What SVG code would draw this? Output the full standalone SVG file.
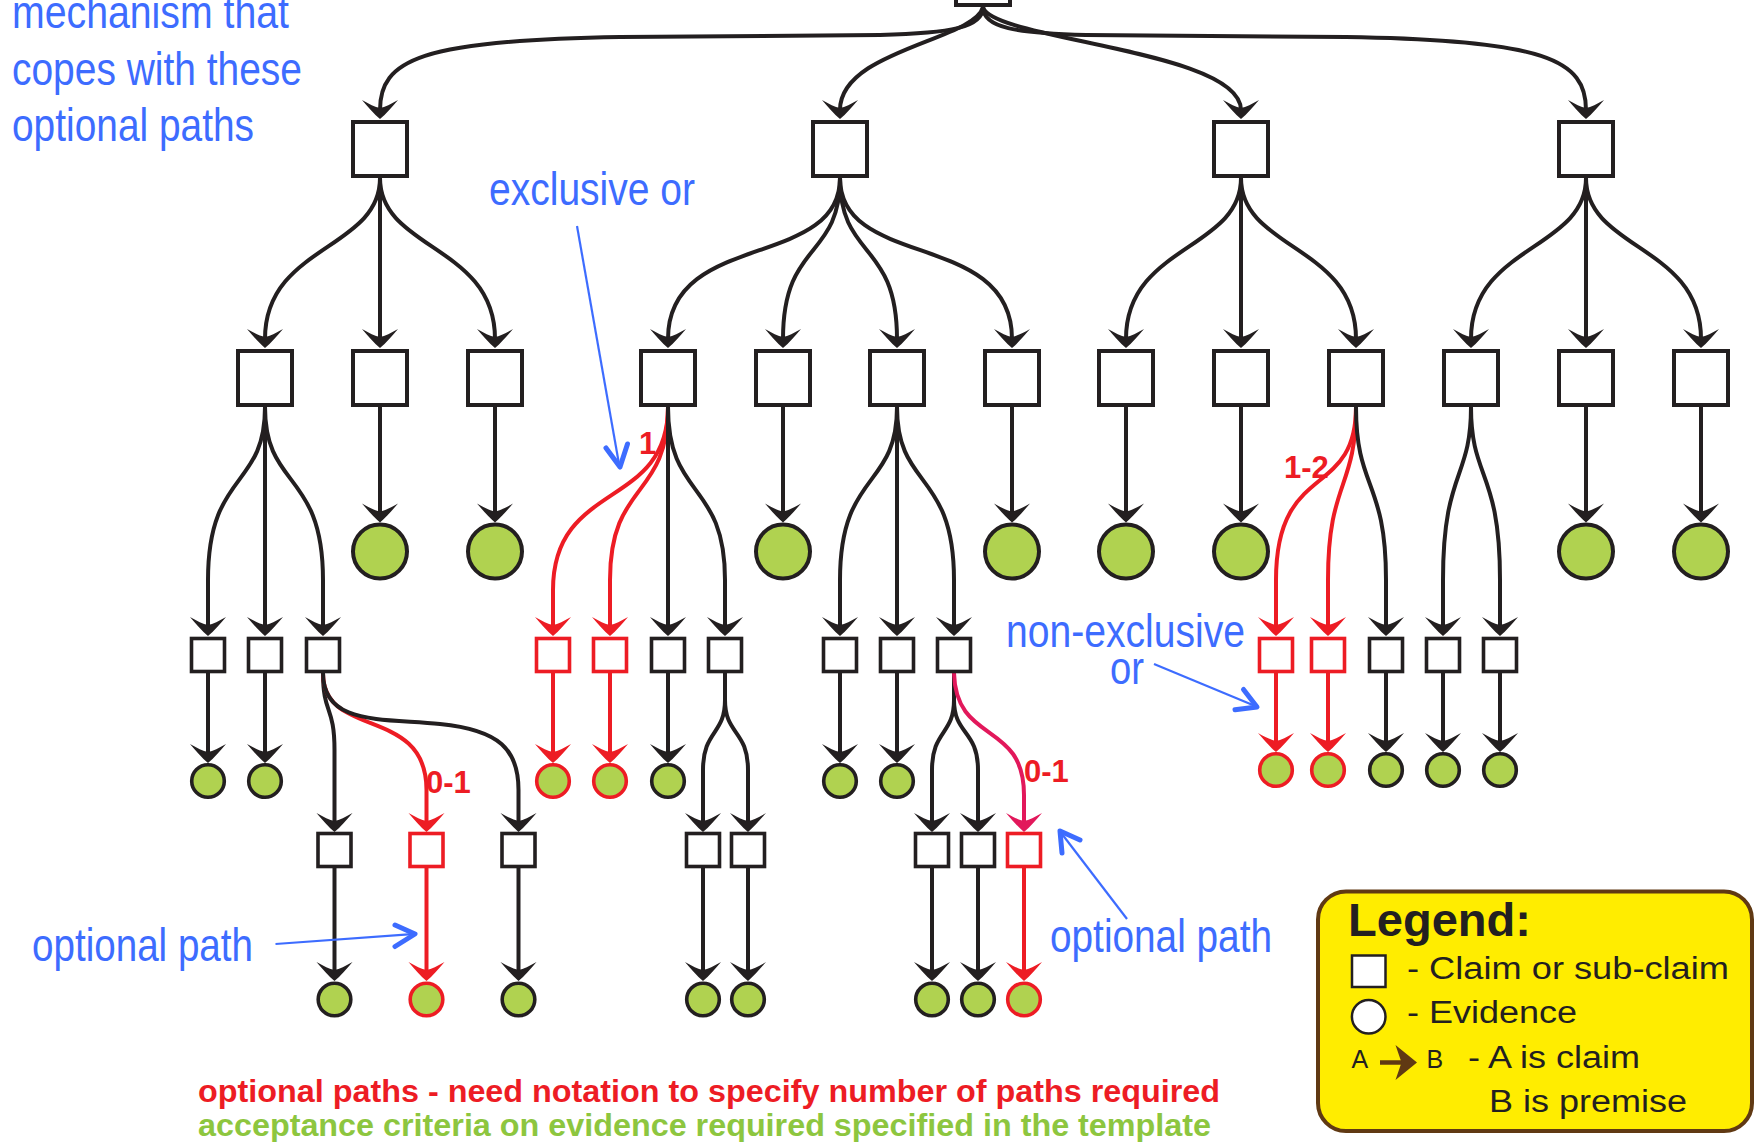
<svg xmlns="http://www.w3.org/2000/svg" width="1754" height="1142" viewBox="0 0 1754 1142">
  <style>
    .box { fill: #fff; stroke: #231F20; stroke-width: 4; }
    .sbox { fill: #fff; stroke: #231F20; stroke-width: 3.6; }
    .ev { fill: #B0D250; stroke: #231F20; stroke-width: 4; }
    .sev { fill: #B0D250; stroke: #231F20; stroke-width: 3.6; }
    .opt { stroke: #ED1C24; }
    .link { fill: none; stroke: #231F20; stroke-width: 4; marker-end: url(#ah); }
    .link.opt { stroke: #ED1C24; marker-end: url(#ahr); }
    .link.opt2 { stroke: #E2185B; marker-end: url(#ahc); }
    .note { font-family: "Liberation Sans", Arial, sans-serif; font-size: 46px; fill: #3D6CFF; }
    .count { font-family: "Liberation Sans", Arial, sans-serif; font-weight: bold; font-size: 31px; fill: #ED1C24; }
    .pointer { fill: none; stroke: #3D6CFF; stroke-width: 2.2; }
    .pointer-head { fill: none; stroke: #3D6CFF; stroke-width: 5; stroke-linecap: round; stroke-linejoin: round; }
    .foot { font-family: "Liberation Sans", Arial, sans-serif; font-weight: bold; font-size: 31px; }
    .leg { font-family: "Liberation Sans", Arial, sans-serif; font-size: 31px; fill: #231F20; }
  </style>
  <defs>
    <marker id="ah" markerUnits="userSpaceOnUse" orient="auto" viewBox="-20 -20 40 40" markerWidth="40" markerHeight="40" refX="-9" refY="0">
      <path d="M0,0 C-5,-6 -12,-12 -19,-18 C-15,-11 -12,-5 -11,0 C-12,5 -15,11 -19,18 C-12,12 -5,6 0,0 Z" fill="#231F20"/>
    </marker>
    <marker id="ahr" markerUnits="userSpaceOnUse" orient="auto" viewBox="-20 -20 40 40" markerWidth="40" markerHeight="40" refX="-9" refY="0">
      <path d="M0,0 C-5,-6 -12,-12 -19,-18 C-15,-11 -12,-5 -11,0 C-12,5 -15,11 -19,18 C-12,12 -5,6 0,0 Z" fill="#ED1C24"/>
    </marker>
    <marker id="ahc" markerUnits="userSpaceOnUse" orient="auto" viewBox="-20 -20 40 40" markerWidth="40" markerHeight="40" refX="-9" refY="0">
      <path d="M0,0 C-5,-6 -12,-12 -19,-18 C-15,-11 -12,-5 -11,0 C-12,5 -15,11 -19,18 C-12,12 -5,6 0,0 Z" fill="#E2185B"/>
    </marker>
  </defs>

  <rect width="1754" height="1142" fill="#fff"/>

  <!-- connectors -->
  <g id="connectors">
    <!-- root to top-level claims -->
    <path class="link" d="M983,7 C983,28 950,33 880,35 L620,37 C420,40 380,60 380,110"/>
    <path class="link" d="M983,7 C975,40 840,50 840,110"/>
    <path class="link" d="M983,7 C991,40 1241,50 1241,110"/>
    <path class="link" d="M983,7 C983,28 1016,33 1086,35 L1346,37 C1546,40 1586,60 1586,110"/>

    <!-- top-level claims to sub-claims -->
    <path class="link" d="M380,178 C380,250 265,245 265,339"/>
    <path class="link" d="M380,178 L380,339"/>
    <path class="link" d="M380,178 C380,250 495,245 495,339"/>
    <path class="link" d="M840,178 C840,270 668,230 668,339"/>
    <path class="link" d="M840,178 C840,260 783,240 783,339"/>
    <path class="link" d="M840,178 C840,260 897,240 897,339"/>
    <path class="link" d="M840,178 C840,270 1012,230 1012,339"/>
    <path class="link" d="M1241,178 C1241,250 1126,245 1126,339"/>
    <path class="link" d="M1241,178 L1241,339"/>
    <path class="link" d="M1241,178 C1241,250 1356,245 1356,339"/>
    <path class="link" d="M1586,178 C1586,250 1471,245 1471,339"/>
    <path class="link" d="M1586,178 L1586,339"/>
    <path class="link" d="M1586,178 C1586,250 1701,245 1701,339"/>

    <!-- sub-claims to evidence -->
    <path class="link" d="M380,407 L380,513.5"/>
    <path class="link" d="M495,407 L495,513.5"/>
    <path class="link" d="M783,407 L783,513.5"/>
    <path class="link" d="M1012,407 L1012,513.5"/>
    <path class="link" d="M1126,407 L1126,513.5"/>
    <path class="link" d="M1241,407 L1241,513.5"/>
    <path class="link" d="M1586,407 L1586,513.5"/>
    <path class="link" d="M1701,407 L1701,513.5"/>

    <!-- sub-claims to third-level claims -->
    <path class="link" d="M265,407 C265,490 208,470 208,580 L208,627"/>
    <path class="link" d="M265,407 L265,627"/>
    <path class="link" d="M265,407 C265,490 323,470 323,580 L323,627"/>
    <path class="link opt" d="M668,407 C668,510 553,480 553,590 L553,627"/>
    <path class="link opt" d="M668,407 C668,500 610,480 610,580 L610,627"/>
    <path class="link" d="M668,407 L668,627"/>
    <path class="link" d="M668,407 C668,500 725,480 725,580 L725,627"/>
    <path class="link" d="M897,407 C897,490 840,470 840,580 L840,627"/>
    <path class="link" d="M897,407 L897,627"/>
    <path class="link" d="M897,407 C897,490 954,470 954,580 L954,627"/>
    <path class="link opt" d="M1356,407 C1356,500 1276,460 1276,580 L1276,627"/>
    <path class="link opt" d="M1356,407 C1356,490 1328,480 1328,580 L1328,627"/>
    <path class="link" d="M1356,407 C1356,490 1386,480 1386,580 L1386,627"/>
    <path class="link" d="M1471,407 C1471,480 1443,470 1443,580 L1443,627"/>
    <path class="link" d="M1471,407 C1471,480 1500,470 1500,580 L1500,627"/>

    <!-- third-level claims to evidence -->
    <path class="link" d="M208,673 L208,754"/>
    <path class="link" d="M265,673 L265,754"/>
    <path class="link opt" d="M553,673 L553,754"/>
    <path class="link opt" d="M610,673 L610,754"/>
    <path class="link" d="M668,673 L668,754"/>
    <path class="link" d="M840,673 L840,754"/>
    <path class="link" d="M897,673 L897,754"/>
    <path class="link opt" d="M1276,673 L1276,743"/>
    <path class="link opt" d="M1328,673 L1328,743"/>
    <path class="link" d="M1386,673 L1386,743"/>
    <path class="link" d="M1443,673 L1443,743"/>
    <path class="link" d="M1500,673 L1500,743"/>

    <!-- third-level claims to fourth-level claims -->
    <path class="link" d="M323,673 C323,715 334.5,705 334.5,750 L334.5,823"/>
    <path class="link opt" d="M323,673 C323,740 426.5,705 426.5,790 L426.5,823"/>
    <path class="link" d="M323,673 C323,725 380,718 440,724 C500,730 518.5,750 518.5,790 L518.5,823"/>
    <path class="link" d="M725,673 L725,700 C725,735 703,730 703,770 L703,823"/>
    <path class="link" d="M725,673 L725,700 C725,735 748,730 748,770 L748,823"/>
    <path class="link" d="M954,673 L954,700 C954,735 932,730 932,770 L932,823"/>
    <path class="link" d="M954,673 L954,700 C954,735 978,730 978,770 L978,823"/>
    <path class="link opt2" d="M954,673 C956,745 1024,720 1024,795 L1024,823"/>

    <!-- fourth-level claims to evidence -->
    <path class="link" d="M334.5,868 L334.5,972"/>
    <path class="link opt" d="M426.5,868 L426.5,972"/>
    <path class="link" d="M518.5,868 L518.5,972"/>
    <path class="link" d="M703,868 L703,972"/>
    <path class="link" d="M748,868 L748,972"/>
    <path class="link" d="M932,868 L932,972"/>
    <path class="link" d="M978,868 L978,972"/>
    <path class="link opt" d="M1024,868 L1024,972"/>
  </g>

  <!-- root claim -->
  <g id="n-root"><rect class="box" x="956" y="-49" width="54" height="54"/></g>

  <!-- top-level claims -->
  <g id="n-a"><rect class="box" x="353" y="122" width="54" height="54"/></g>
  <g id="n-b"><rect class="box" x="813" y="122" width="54" height="54"/></g>
  <g id="n-c"><rect class="box" x="1214" y="122" width="54" height="54"/></g>
  <g id="n-d"><rect class="box" x="1559" y="122" width="54" height="54"/></g>

  <!-- sub-claims -->
  <g id="n-a1"><rect class="box" x="238" y="351" width="54" height="54"/></g>
  <g id="n-a2"><rect class="box" x="353" y="351" width="54" height="54"/></g>
  <g id="n-a3"><rect class="box" x="468" y="351" width="54" height="54"/></g>
  <g id="n-b1"><rect class="box" x="641" y="351" width="54" height="54"/></g>
  <g id="n-b2"><rect class="box" x="756" y="351" width="54" height="54"/></g>
  <g id="n-b3"><rect class="box" x="870" y="351" width="54" height="54"/></g>
  <g id="n-b4"><rect class="box" x="985" y="351" width="54" height="54"/></g>
  <g id="n-c1"><rect class="box" x="1099" y="351" width="54" height="54"/></g>
  <g id="n-c2"><rect class="box" x="1214" y="351" width="54" height="54"/></g>
  <g id="n-c3"><rect class="box" x="1329" y="351" width="54" height="54"/></g>
  <g id="n-d1"><rect class="box" x="1444" y="351" width="54" height="54"/></g>
  <g id="n-d2"><rect class="box" x="1559" y="351" width="54" height="54"/></g>
  <g id="n-d3"><rect class="box" x="1674" y="351" width="54" height="54"/></g>

  <!-- evidence under sub-claims -->
  <g id="e-a2"><circle class="ev" cx="380" cy="551.5" r="27"/></g>
  <g id="e-a3"><circle class="ev" cx="495" cy="551.5" r="27"/></g>
  <g id="e-b2"><circle class="ev" cx="783" cy="551.5" r="27"/></g>
  <g id="e-b4"><circle class="ev" cx="1012" cy="551.5" r="27"/></g>
  <g id="e-c1"><circle class="ev" cx="1126" cy="551.5" r="27"/></g>
  <g id="e-c2"><circle class="ev" cx="1241" cy="551.5" r="27"/></g>
  <g id="e-d2"><circle class="ev" cx="1586" cy="551.5" r="27"/></g>
  <g id="e-d3"><circle class="ev" cx="1701" cy="551.5" r="27"/></g>

  <!-- third-level claims -->
  <g id="n-a1-1"><rect class="sbox" x="191.5" y="638.5" width="33" height="33"/></g>
  <g id="n-a1-2"><rect class="sbox" x="248.5" y="638.5" width="33" height="33"/></g>
  <g id="n-a1-3"><rect class="sbox" x="306.5" y="638.5" width="33" height="33"/></g>
  <g id="n-b1-1"><rect class="sbox opt" x="536.5" y="638.5" width="33" height="33"/></g>
  <g id="n-b1-2"><rect class="sbox opt" x="593.5" y="638.5" width="33" height="33"/></g>
  <g id="n-b1-3"><rect class="sbox" x="651.5" y="638.5" width="33" height="33"/></g>
  <g id="n-b1-4"><rect class="sbox" x="708.5" y="638.5" width="33" height="33"/></g>
  <g id="n-b3-1"><rect class="sbox" x="823.5" y="638.5" width="33" height="33"/></g>
  <g id="n-b3-2"><rect class="sbox" x="880.5" y="638.5" width="33" height="33"/></g>
  <g id="n-b3-3"><rect class="sbox" x="937.5" y="638.5" width="33" height="33"/></g>
  <g id="n-c3-1"><rect class="sbox opt" x="1259.5" y="638.5" width="33" height="33"/></g>
  <g id="n-c3-2"><rect class="sbox opt" x="1311.5" y="638.5" width="33" height="33"/></g>
  <g id="n-c3-3"><rect class="sbox" x="1369.5" y="638.5" width="33" height="33"/></g>
  <g id="n-d1-1"><rect class="sbox" x="1426.5" y="638.5" width="33" height="33"/></g>
  <g id="n-d1-2"><rect class="sbox" x="1483.5" y="638.5" width="33" height="33"/></g>

  <!-- evidence under third-level claims -->
  <g id="e-a1-1"><circle class="sev" cx="208" cy="781" r="16.3"/></g>
  <g id="e-a1-2"><circle class="sev" cx="265" cy="781" r="16.3"/></g>
  <g id="e-b1-1"><circle class="sev opt" cx="553" cy="781" r="16.3"/></g>
  <g id="e-b1-2"><circle class="sev opt" cx="610" cy="781" r="16.3"/></g>
  <g id="e-b1-3"><circle class="sev" cx="668" cy="781" r="16.3"/></g>
  <g id="e-b3-1"><circle class="sev" cx="840" cy="781" r="16.3"/></g>
  <g id="e-b3-2"><circle class="sev" cx="897" cy="781" r="16.3"/></g>
  <g id="e-c3-1"><circle class="sev opt" cx="1276" cy="770" r="16.3"/></g>
  <g id="e-c3-2"><circle class="sev opt" cx="1328" cy="770" r="16.3"/></g>
  <g id="e-c3-3"><circle class="sev" cx="1386" cy="770" r="16.3"/></g>
  <g id="e-d1-1"><circle class="sev" cx="1443" cy="770" r="16.3"/></g>
  <g id="e-d1-2"><circle class="sev" cx="1500" cy="770" r="16.3"/></g>

  <!-- fourth-level claims -->
  <g id="n-a13-1"><rect class="sbox" x="318" y="833.5" width="33" height="33"/></g>
  <g id="n-a13-2"><rect class="sbox opt" x="410" y="833.5" width="33" height="33"/></g>
  <g id="n-a13-3"><rect class="sbox" x="502" y="833.5" width="33" height="33"/></g>
  <g id="n-b14-1"><rect class="sbox" x="686.5" y="833.5" width="33" height="33"/></g>
  <g id="n-b14-2"><rect class="sbox" x="731.5" y="833.5" width="33" height="33"/></g>
  <g id="n-b33-1"><rect class="sbox" x="915.5" y="833.5" width="33" height="33"/></g>
  <g id="n-b33-2"><rect class="sbox" x="961.5" y="833.5" width="33" height="33"/></g>
  <g id="n-b33-3"><rect class="sbox opt" x="1007.5" y="833.5" width="33" height="33"/></g>

  <!-- evidence under fourth-level claims -->
  <g id="e-a13-1"><circle class="sev" cx="334.5" cy="999.5" r="16.3"/></g>
  <g id="e-a13-2"><circle class="sev opt" cx="426.5" cy="999.5" r="16.3"/></g>
  <g id="e-a13-3"><circle class="sev" cx="518.5" cy="999.5" r="16.3"/></g>
  <g id="e-b14-1"><circle class="sev" cx="703" cy="999.5" r="16.3"/></g>
  <g id="e-b14-2"><circle class="sev" cx="748" cy="999.5" r="16.3"/></g>
  <g id="e-b33-1"><circle class="sev" cx="932" cy="999.5" r="16.3"/></g>
  <g id="e-b33-2"><circle class="sev" cx="978" cy="999.5" r="16.3"/></g>
  <g id="e-b33-3"><circle class="sev opt" cx="1024" cy="999.5" r="16.3"/></g>

  <!-- path-count labels -->
  <g id="counts">
    <text class="count" x="639" y="454">1</text>
    <text class="count" x="1284" y="478">1-2</text>
    <text class="count" x="426" y="793">0-1</text>
    <text class="count" x="1024" y="782">0-1</text>
  </g>

  <!-- blue annotations -->
  <g id="notes">
    <text class="note" x="12" y="28" textLength="277" lengthAdjust="spacingAndGlyphs">mechanism that</text>
    <text class="note" x="12" y="85" textLength="290" lengthAdjust="spacingAndGlyphs">copes with these</text>
    <text class="note" x="12" y="141" textLength="242" lengthAdjust="spacingAndGlyphs">optional paths</text>

    <text class="note" x="489" y="205" textLength="206" lengthAdjust="spacingAndGlyphs">exclusive or</text>
    <line class="pointer" x1="577" y1="226" x2="619" y2="464"/>
    <polyline class="pointer-head" points="606,448 620,467 627.5,444"/>

    <text class="note" x="1006" y="647" textLength="239" lengthAdjust="spacingAndGlyphs">non-exclusive</text>
    <text class="note" x="1110" y="684" textLength="34" lengthAdjust="spacingAndGlyphs">or</text>
    <line class="pointer" x1="1154" y1="664" x2="1254" y2="705.5"/>
    <polyline class="pointer-head" points="1243.5,689.5 1257,707 1235,709.8"/>

    <text class="note" x="32" y="961" textLength="221" lengthAdjust="spacingAndGlyphs">optional path</text>
    <line class="pointer" x1="275.5" y1="944" x2="412" y2="934.2"/>
    <polyline class="pointer-head" points="395,925 415,934 395,946.5"/>

    <text class="note" x="1050" y="952" textLength="222" lengthAdjust="spacingAndGlyphs">optional path</text>
    <line class="pointer" x1="1127" y1="919" x2="1062" y2="834"/>
    <polyline class="pointer-head" points="1062,853 1060,831 1080,840"/>
  </g>

  <!-- footnotes -->
  <g id="footnotes">
    <text class="foot" x="198" y="1102" fill="#ED1C24" textLength="1022" lengthAdjust="spacingAndGlyphs">optional paths - need notation to specify number of paths required</text>
    <text class="foot" x="198" y="1136" fill="#8DC63F" textLength="1013" lengthAdjust="spacingAndGlyphs">acceptance criteria on evidence required specified in the template</text>
  </g>

  <!-- legend -->
  <g id="legend">
    <rect x="1318" y="891.5" width="434" height="239.5" rx="28" ry="28" fill="#FFED00" stroke="#603913" stroke-width="4"/>
    <text x="1348" y="936" font-family="Liberation Sans, Arial, sans-serif" font-weight="bold" font-size="46" fill="#231F20" textLength="183" lengthAdjust="spacingAndGlyphs">Legend:</text>
    <rect x="1352" y="955.5" width="33.5" height="31.5" fill="#fff" stroke="#231F20" stroke-width="2.5"/>
    <text class="leg" x="1407" y="979" textLength="322" lengthAdjust="spacingAndGlyphs">- Claim or sub-claim</text>
    <circle cx="1368.7" cy="1016.7" r="16.8" fill="#fff" stroke="#231F20" stroke-width="2.5"/>
    <text class="leg" x="1407" y="1023" textLength="170" lengthAdjust="spacingAndGlyphs">- Evidence</text>
    <text x="1351.5" y="1068" font-family="Liberation Sans, Arial, sans-serif" font-size="25" fill="#231F20">A</text>
    <line x1="1380" y1="1062.5" x2="1402" y2="1062.5" stroke="#603913" stroke-width="4.5"/>
    <path d="M1417,1062.5 L1395.5,1045 L1401.5,1062.5 L1395.5,1080 Z" fill="#603913"/>
    <text x="1426.5" y="1068" font-family="Liberation Sans, Arial, sans-serif" font-size="25" fill="#231F20">B</text>
    <text class="leg" x="1468" y="1068" textLength="172" lengthAdjust="spacingAndGlyphs">- A is claim</text>
    <text class="leg" x="1489" y="1112" textLength="198" lengthAdjust="spacingAndGlyphs">B is premise</text>
  </g>
</svg>
